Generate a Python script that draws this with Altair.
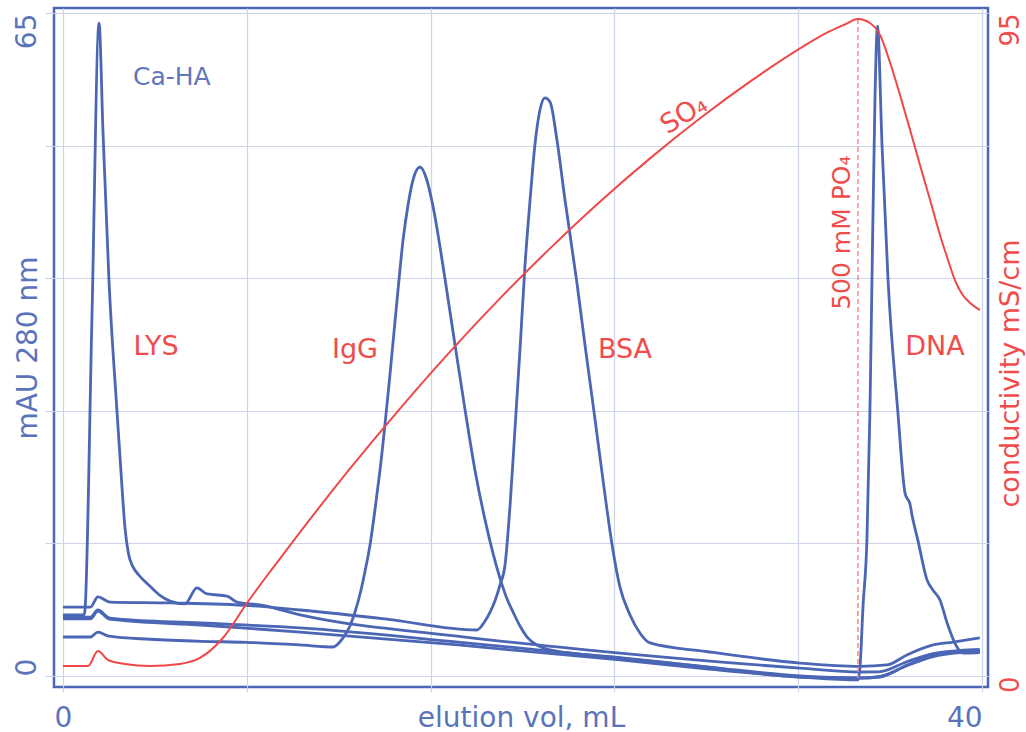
import altair as alt
import pandas as pd

# ---- chromatogram traces: elution volume (mL) vs absorbance (mAU 280 nm) ----
LYS_ML = [0.0, 0.92, 0.96, 1.26, 1.57, 1.74, 2.00, 2.35, 2.57, 2.70, 2.85, 3.05, 3.30,
          3.79, 4.22, 4.66, 5.31, 5.83, 6.27, 7.14, 7.57, 8.57, 10.32, 17.5, 24.24,
          32.08, 34.69, 35.5, 36.73, 37.87, 39.04, 39.9]
LYS_MAU = [5.98, 5.98, 6.5, 35.0, 64.0, 53.5, 38.9, 26.0, 18.5, 14.5, 12.0, 10.7, 9.9,
           8.8, 7.9, 7.35, 7.06, 8.63, 8.04, 7.84, 7.25, 6.96, 6.0, 3.82, 2.25,
           0.78, 0.39, 0.4, 1.4, 2.2, 2.5, 2.6]

IGG_ML = [0.0, 1.2, 1.52, 2.0, 3.8, 6.0, 8.0, 10.32, 11.75, 12.19, 12.49, 12.71, 12.93,
          13.14, 13.36, 13.58, 13.80, 14.23, 14.58, 14.80, 15.02, 15.23, 15.54, 15.84,
          16.10, 16.63, 17.06, 17.50, 17.93, 18.37, 18.72, 19.02, 19.32, 19.59, 19.89,
          20.20, 20.63, 21.20, 24.24, 28.0, 32.08, 34.69, 35.56, 36.73, 37.87, 39.04, 39.9]
IGG_MAU = [3.82, 3.82, 4.3, 3.9, 3.6, 3.4, 3.3, 3.04, 2.84, 3.73, 4.9, 6.27, 8.04,
           10.2, 12.8, 16.3, 20.2, 29.5, 37.8, 42.7, 46.2, 48.6, 49.9, 48.6,
           46.1, 38.9, 32.5, 26.1, 20.2, 15.3, 12.0, 9.6, 7.6, 6.27, 4.9,
           3.82, 3.04, 2.55, 1.8, 0.9, -0.1, -0.2, -0.05, 1.0, 1.9, 2.3, 2.4]

BSA_ML = [0.0, 1.2, 1.52, 2.05, 4.66, 8.14, 10.32, 14.0, 18.02, 18.37, 18.59, 18.80,
          19.02, 19.24, 19.46, 19.67, 19.89, 20.11, 20.33, 20.54, 20.76, 20.98, 21.20,
          21.50, 21.85, 22.37, 22.72, 23.16, 23.59, 23.90, 24.24, 24.68, 25.11, 25.55,
          28.0, 32.08, 34.69, 35.86, 36.73, 37.87, 38.74, 39.9]
BSA_MAU = [6.76, 6.76, 7.75, 7.25, 7.16, 6.9, 6.47, 5.6, 4.51, 5.39, 6.27, 7.35,
           8.92, 10.88, 16.76, 24.12, 31.96, 40.29, 46.67, 52.06, 55.49, 56.67, 56.27,
           52.55, 46.67, 38.53, 32.45, 25.1, 17.75, 12.84, 8.73, 5.98, 4.22, 3.24,
           2.4, 1.27, 0.95, 1.08, 2.06, 3.04, 3.33, 3.73]

BLANK_ML = [0.0, 1.2, 1.52, 2.0, 2.35, 6.0, 10.32, 17.2, 24.24, 28.0, 32.08, 34.69,
            35.56, 36.73, 37.87, 39.04, 39.9]
BLANK_MAU = [5.78, 5.78, 6.47, 5.7, 5.6, 5.2, 4.71, 3.33, 1.76, 0.9, 0.0, -0.2,
             -0.1, 1.08, 2.06, 2.35, 2.45]

DNA_ML = [0.0, 1.2, 1.52, 2.0, 2.35, 6.0, 10.32, 17.2, 24.24, 28.0, 32.08, 34.60,
          34.69, 34.82, 34.99, 35.12, 35.21, 35.34, 35.45, 35.65, 35.91, 36.34, 36.65,
          36.87, 36.95, 37.21, 37.61, 37.87, 38.17, 38.48, 38.91, 39.17, 39.9]
DNA_MAU = [5.59, 5.59, 6.37, 5.6, 5.5, 5.0, 4.31, 3.04, 1.57, 0.7, -0.1, -0.39,
           0.9, 6.8, 13.3, 25.8, 38.8, 56.5, 63.7, 51.9, 38.8, 25.8, 17.9,
           16.8, 15.8, 13.3, 9.4, 8.4, 7.45, 5.2, 2.84, 2.25, 2.3]

# ---- conductivity (mS/cm) of the sulfate gradient and phosphate step ----
COND_ML = [0.0, 1.09, 1.52, 1.96, 2.70, 3.79, 5.09, 5.96, 6.96, 8.01, 9.14, 10.32,
           12.49, 14.67, 16.84, 19.02, 21.20, 23.37, 25.55, 27.73, 29.90, 32.08, 33.38,
           34.03, 34.60, 35.12, 35.56, 35.99, 36.43, 36.87, 37.30, 37.74, 38.17, 38.52,
           38.82, 39.13, 39.48, 39.91]
COND = [1.43, 1.43, 3.58, 2.29, 1.72, 1.43, 1.72, 2.58, 5.44, 10.46, 15.50, 20.62,
        29.70, 38.32, 46.44, 54.11, 61.27, 67.96, 74.17, 79.91, 85.16, 89.94, 92.40,
        93.36, 94.14, 93.57, 91.85, 87.98, 83.25, 78.24, 73.22, 68.21, 63.19, 59.61,
        56.74, 54.73, 53.44, 52.44]

# phosphate step marker
STEP_ML = [34.6]
STEP_TOP = [94.14]
STEP_BOTTOM = [-0.3]

# peak / annotation labels (placed in mAU coordinates)
PEAK_TEXT = ["LYS", "IgG", "BSA", "DNA"]
PEAK_X = [4.05, 12.71, 24.46, 37.95]
PEAK_Y = [32.25, 32.0, 32.0, 32.25]

FONT = "DejaVu Sans"
BLUE = "#4a66b4"
AXIS_BLUE = "#5a74ba"
LIGHT_BLUE = "#5f76ba"
RED = "#f04848"
TEXT_RED = "#ef4c4c"
DASH_RED = "#f58a8a"
GRID = "#cdd4e8"

runs = {
    "LYS": (LYS_ML, LYS_MAU),
    "IgG": (IGG_ML, IGG_MAU),
    "BSA": (BSA_ML, BSA_MAU),
    "blank": (BLANK_ML, BLANK_MAU),
    "DNA": (DNA_ML, DNA_MAU),
}
uv = pd.DataFrame(
    [{"run": k, "ml": x, "mau": y} for k, (xs, ys) in runs.items() for x, y in zip(xs, ys)]
)
cond = pd.DataFrame({"ml": COND_ML, "cond": COND})
step = pd.DataFrame({"ml": STEP_ML, "top": STEP_TOP, "bottom": STEP_BOTTOM})
peaks = pd.DataFrame({"ml": PEAK_X, "mau": PEAK_Y, "t": PEAK_TEXT})
resin = pd.DataFrame({"ml": [4.74], "mau": [58.7], "t": ["Ca-HA"]})
so4 = pd.DataFrame({"ml": [27.03], "mau": [55.0], "t": ["SO₄"]})
po4 = pd.DataFrame({"ml": [34.25], "mau": [35.9], "t": ["500 mM PO₄"]})

x_scale = alt.Scale(domain=[-0.39, 40.26], nice=False, zero=False)
y_left_scale = alt.Scale(domain=[-1.08, 65.49], nice=False, zero=False)
y_right_scale = alt.Scale(domain=[-1.58, 95.72], nice=False, zero=False)

x_axis = alt.Axis(
    values=[0, 8, 16, 24, 32, 40],
    labelExpr="datum.value == 0 || datum.value == 40 ? datum.label : ''",
    grid=True, gridColor=GRID, gridWidth=1.2,
    ticks=True, tickColor=GRID, tickSize=5, tickWidth=1.2,
    domain=False,
    labelColor=AXIS_BLUE, labelFontSize=28, labelFont=FONT,
    labelBaseline="alphabetic", labelPadding=34,
    labelAlign={"condition": {"test": "datum.value == 40", "value": "right"}, "value": "center"},
    labelFlush=False, labelOverlap=False,
    title="elution vol, mL", titleColor=AXIS_BLUE, titleFontSize=28, titleFont=FONT,
    titleFontWeight="normal", titleBaseline="alphabetic", titleY=39,
)

y_left_axis = alt.Axis(
    values=[0, 13, 26, 39, 52, 65],
    labelExpr="datum.value == 0 || datum.value == 65 ? datum.label : ''",
    grid=True, gridColor=GRID, gridWidth=1.2,
    ticks=True, tickColor=GRID, tickSize=9, tickWidth=1.2,
    domain=False,
    labelColor=AXIS_BLUE, labelFontSize=28, labelFont=FONT,
    labelAngle=270, labelBaseline="alphabetic", labelPadding=10,
    labelAlign={"condition": {"test": "datum.value == 65", "value": "right"}, "value": "left"},
    labelFlush=False, labelOverlap=False,
    title="mAU 280 nm", titleColor=AXIS_BLUE, titleFontSize=28, titleFont=FONT,
    titleFontWeight="normal", titleAngle=270, titleBaseline="middle", titleAlign="center",
    titleX=-26, titleY=339.5,
)

y_right_axis = alt.Axis(
    orient="right",
    values=[0, 95],
    grid=False, ticks=False, domain=False,
    labelColor=TEXT_RED, labelFontSize=26, labelFont=FONT,
    labelAngle=270, labelBaseline="top", labelPadding=9, labelAlign="right",
    labelFlush=False, labelOverlap=False,
    title="conductivity mS/cm", titleColor=TEXT_RED, titleFontSize=27, titleFont=FONT,
    titleFontWeight="normal", titleAngle=270, titleBaseline="middle", titleAlign="center",
    titleX=22, titleY=365,
)

X = alt.X("ml:Q", scale=x_scale, axis=x_axis)
Y_LEFT = alt.Y("mau:Q", scale=y_left_scale, axis=y_left_axis)

traces = alt.Chart(uv).mark_line(
    interpolate="monotone", strokeWidth=2.8, color=BLUE
).encode(x=X, y=Y_LEFT, detail="run:N")

peak_labels = alt.Chart(peaks).mark_text(
    font=FONT, fontSize=27, color=TEXT_RED, align="center", baseline="middle"
).encode(x=X, y=Y_LEFT, text="t:N")

resin_label = alt.Chart(resin).mark_text(
    font=FONT, fontSize=25, color=LIGHT_BLUE, align="center", baseline="middle"
).encode(x=X, y=Y_LEFT, text="t:N")

so4_label = alt.Chart(so4).mark_text(
    font=FONT, fontSize=27, color=TEXT_RED, align="center", baseline="middle", angle=328
).encode(x=X, y=Y_LEFT, text="t:N")

po4_label = alt.Chart(po4).mark_text(
    font=FONT, fontSize=25, color=TEXT_RED, align="left", baseline="alphabetic", angle=270
).encode(x=X, y=Y_LEFT, text="t:N")

left = alt.layer(traces, peak_labels, resin_label, so4_label, po4_label)

step_rule = alt.Chart(step).mark_rule(
    color=DASH_RED, strokeWidth=1.5, strokeDash=[5, 3]
).encode(
    x=X,
    y=alt.Y("top:Q", scale=y_right_scale, axis=y_right_axis),
    y2="bottom:Q",
)

cond_line = alt.Chart(cond).mark_line(
    interpolate="monotone", strokeWidth=2.0, color=RED
).encode(
    x=X,
    y=alt.Y("cond:Q", scale=y_right_scale, axis=y_right_axis),
)

right = alt.layer(step_rule, cond_line)

chart = (
    alt.layer(left, right)
    .resolve_scale(y="independent")
    .properties(
        width=934,
        height=679,
        autosize=alt.AutoSizeParams(type="none"),
        padding={"left": 54, "top": 8, "right": 38, "bottom": 45},
        background="white",
    )
    .configure_view(stroke=BLUE, strokeWidth=2.5)
)

chart.save("out.html", embed_options={"renderer": "svg", "actions": False})
